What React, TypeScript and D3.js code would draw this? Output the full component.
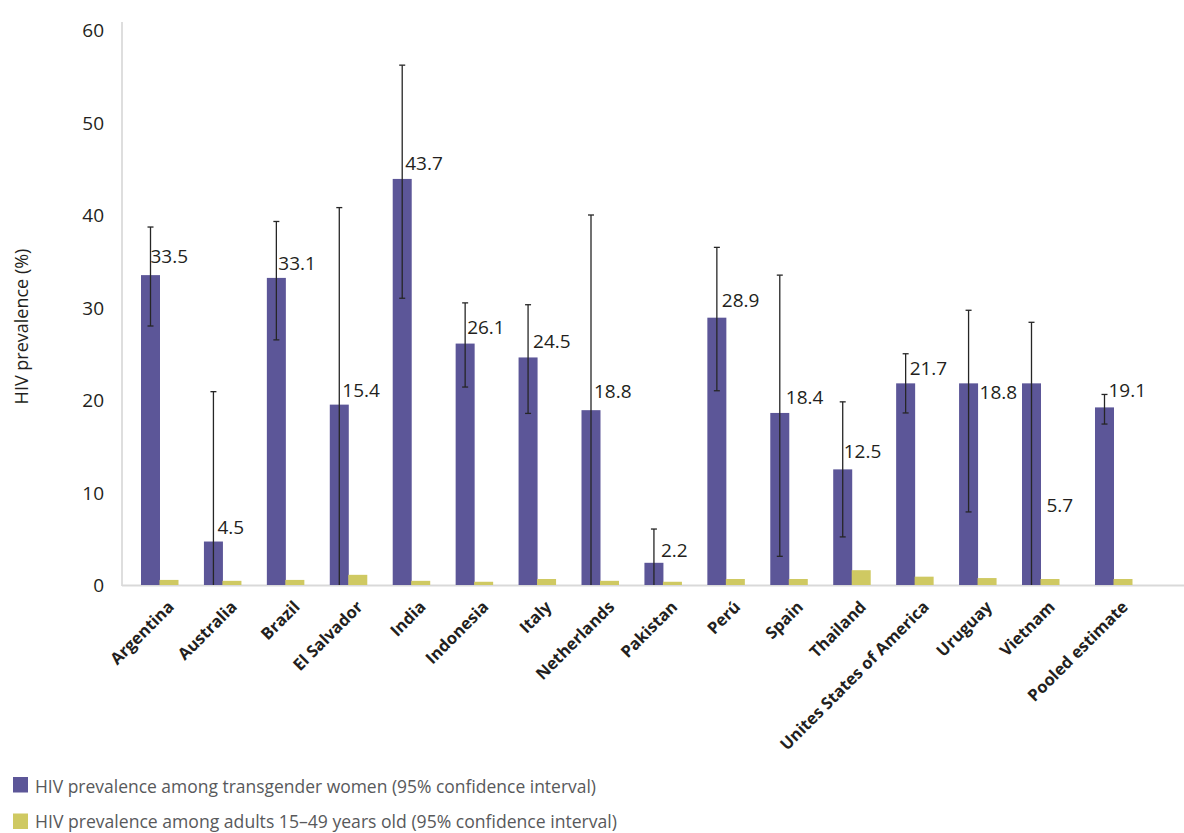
import React from "react";
import * as d3 from "d3";

// ---------- data ----------
const categories = [
  "Argentina", "Australia", "Brazil", "El Salvador", "India", "Indonesia", "Italy",
  "Netherlands", "Pakistan", "Perú", "Spain", "Thailand", "Unites States of America",
  "Uruguay", "Vietnam", "Pooled estimate",
];
// HIV prevalence among transgender women (bar heights, %)
const transgenderValues = [33.5, 4.7, 33.2, 19.5, 43.9, 26.1, 24.6, 18.9, 2.4, 28.9, 18.6, 12.5, 21.8, 21.8, 21.8, 19.2];
// 95% confidence interval
const transgenderLow = [28.0, 0, 26.5, 0, 31.0, 21.4, 18.55, 0, 0, 21.0, 3.1, 5.2, 18.6, 7.9, 0, 17.4];
const transgenderHigh = [38.7, 20.9, 39.3, 40.8, 56.2, 30.5, 30.3, 40.0, 6.05, 36.5, 33.5, 19.8, 25.0, 29.7, 28.4, 20.6];
// HIV prevalence among adults 15–49
const adultValues = [0.55, 0.45, 0.55, 1.1, 0.45, 0.35, 0.65, 0.45, 0.35, 0.65, 0.65, 1.6, 0.9, 0.75, 0.65, 0.65];
// printed value labels and where they sit (in % units)
const valueLabels = ["33.5", "4.5", "33.1", "15.4", "43.7", "26.1", "24.5", "18.8", "2.2", "28.9", "18.4", "12.5", "21.7", "18.8", "5.7", "19.1"];
const valueLabelAt = [34.8, 5.5, 34.05, 20.3, 44.9, 27.1, 25.6, 20.2, 3.0, 30.05, 19.6, 13.7, 22.7, 20.1, 7.9, 20.3];
const yTicks = [0, 10, 20, 30, 40, 50, 60];
const legendLabels = [
  "HIV prevalence among transgender women (95% confidence interval)",
  "HIV prevalence among adults 15–49 years old (95% confidence interval)",
];

// ---------- layout / style ----------
const W = 1184;
const H = 833;
const PURPLE = "#5c5698";
const YELLOW = "#cfc962";
const INK = "#231f20";
const FONT = "'Open Sans', 'Noto Sans', sans-serif";
const BAR_W = 19;
const POOLED_GAP = 0.16;
const labelDx = [0, 4, 2, 3, 3, 2, 5, 3, 7, 5, 6, 1, 4, 11, 15, 4];
const legendTextLength = [561, 582];

export default function App() {
  const y = d3.scaleLinear().domain([0, 60]).range([585, 30]);
  const slot = d3.scaleLinear().domain([0, 14]).range([141, 1022]);
  const left = (i: number) => slot(i + (i === categories.length - 1 ? POOLED_GAP : 0));

  return (
    <svg
      width={W}
      height={H}
      style={{ position: "absolute", left: 0, top: 0, background: "#fff" }}
      fontFamily={FONT}
    >
      {/* axes */}
      <line x1={122} x2={122} y1={22} y2={586} stroke="#d3d3d3" strokeWidth={1.5} />
      <line x1={122} x2={W} y1={585.5} y2={585.5} stroke="#d9d9d9" strokeWidth={2} />

      {yTicks.map((t) => (
        <text key={t} x={104} y={y(t)} textAnchor="end" dominantBaseline="central" fontSize={19} fill={INK}>
          {t}
        </text>
      ))}

      <text
        transform={`translate(21,${(y(0) + y(60)) / 2 + 19}) rotate(-90)`}
        textAnchor="middle"
        dominantBaseline="central"
        fontSize={18}
        fill={INK}
      >
        HIV prevalence (%)
      </text>

      {/* bars */}
      {categories.map((c, i) => (
        <g key={c}>
          <rect x={left(i)} y={y(transgenderValues[i])} width={BAR_W} height={y(0) - y(transgenderValues[i])} fill={PURPLE} />
          <rect x={left(i) + BAR_W - 0.5} y={y(adultValues[i])} width={BAR_W} height={y(0) - y(adultValues[i])} fill={YELLOW} />
        </g>
      ))}

      {/* error bars */}
      {categories.map((c, i) => {
        const cx = left(i) + BAR_W / 2;
        return (
          <g key={"e" + c} stroke="#262626" strokeWidth={1.3}>
            <line x1={cx} x2={cx} y1={y(transgenderLow[i])} y2={y(transgenderHigh[i])} />
            <line x1={cx - 3} x2={cx + 3} y1={y(transgenderHigh[i])} y2={y(transgenderHigh[i])} />
            {transgenderLow[i] > 0 && (
              <line x1={cx - 3} x2={cx + 3} y1={y(transgenderLow[i])} y2={y(transgenderLow[i])} />
            )}
          </g>
        );
      })}

      {/* value labels */}
      {categories.map((c, i) => (
        <text
          key={"l" + c}
          x={left(i) + BAR_W / 2 + labelDx[i]}
          y={y(valueLabelAt[i])}
          fontSize={19}
          fill={INK}
        >
          {valueLabels[i]}
        </text>
      ))}

      {/* category labels */}
      {categories.map((c, i) => (
        <text
          key={"c" + c}
          transform={`translate(${left(i) + BAR_W + 15},608) rotate(-45)`}
          textAnchor="end"
          fontSize={16.5}
          fontWeight="bold"
          fill={INK}
        >
          {c}
        </text>
      ))}

      {/* legend */}
      {legendLabels.map((l, i) => (
        <g key={l}>
          <rect x={13} y={777 + i * 36.5} width={15} height={15.5} fill={i === 0 ? PURPLE : YELLOW} />
          <text
            x={35}
            y={793 + i * 35}
            fontSize={18.5}
            fill="#58595b"
            textLength={legendTextLength[i]}
            lengthAdjust="spacingAndGlyphs"
          >
            {l}
          </text>
        </g>
      ))}
    </svg>
  );
}
